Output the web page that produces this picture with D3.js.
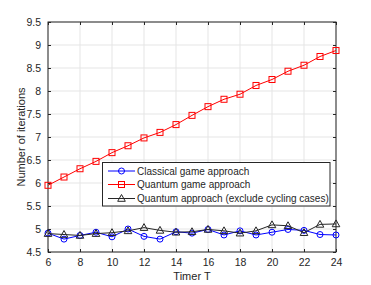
<!DOCTYPE html>
<html><head><meta charset="utf-8">
<script src="https://cdn.jsdelivr.net/npm/d3@7"></script>
<style>body{margin:0;background:#fff}svg{display:block}text{font-family:"Liberation Sans",Arial,sans-serif;fill:#262626}</style>
</head><body>
<svg id="c" width="371" height="285"></svg>
<script>
const timers = [6,7,8,9,10,11,12,13,14,15,16,17,18,19,20,21,22,23,24];
const classical = [4.91,4.78,4.86,4.93,4.83,5.00,4.84,4.78,4.94,4.91,4.99,4.87,4.96,4.87,4.93,4.99,4.97,4.88,4.87];
const quantum = [5.95,6.13,6.31,6.47,6.66,6.81,6.98,7.10,7.27,7.47,7.66,7.82,7.93,8.12,8.25,8.43,8.56,8.75,8.88];
const quantumNoCycle = [4.90,4.88,4.86,4.90,4.92,4.96,5.03,4.97,4.93,4.94,4.99,4.96,4.91,4.96,5.09,5.07,4.92,5.10,5.11];
const xTicks = [6,8,10,12,14,16,18,20,22,24];
const yTicks = [4.5,5,5.5,6,6.5,7,7.5,8,8.5,9,9.5];
const seriesNames = ["Classical game approach","Quantum game approach","Quantum approach (exclude cycling cases)"];

const svg = d3.select("#c");
const L=48,R=336,T=22,B=252;
const x = d3.scaleLinear().domain([6,24]).range([L,R]);
const y = d3.scaleLinear().domain([4.5,9.5]).range([B,T]);

// grid
const g = svg.append("g");
g.selectAll(".gx").data(xTicks).enter().append("line")
 .attr("x1",d=>x(d)).attr("x2",d=>x(d)).attr("y1",T).attr("y2",B)
 .attr("stroke","#e5e5e5").attr("stroke-width",1);
g.selectAll(".gy").data(yTicks).enter().append("line")
 .attr("y1",d=>y(d)).attr("y2",d=>y(d)).attr("x1",L).attr("x2",R)
 .attr("stroke","#e5e5e5").attr("stroke-width",1);

// axes
const ax = d3.axisBottom(x).tickValues(xTicks).tickSizeInner(-3).tickSizeOuter(0).tickPadding(7);
const ay = d3.axisLeft(y).tickValues(yTicks).tickSizeInner(-3).tickSizeOuter(0).tickPadding(7).tickFormat(d=>String(d));
const axT = d3.axisTop(x).tickValues(xTicks).tickSizeInner(-3).tickSizeOuter(0).tickFormat("");
const ayR = d3.axisRight(y).tickValues(yTicks).tickSizeInner(-3).tickSizeOuter(0).tickFormat("");
function style(sel){
  sel.selectAll("path").remove();
  sel.selectAll("line").attr("stroke","#262626");
  sel.selectAll("text").attr("font-size","10.5px").attr("fill","#262626").style("font-family",'"Liberation Sans",Arial,sans-serif');
}
svg.append("g").attr("transform",`translate(0,${B})`).call(ax).call(style);
svg.append("g").attr("transform",`translate(${L},0)`).call(ay).call(style);
svg.append("g").attr("transform",`translate(0,${T})`).call(axT).call(style);
svg.append("g").attr("transform",`translate(${R},0)`).call(ayR).call(style);
svg.append("rect").attr("x",L).attr("y",T).attr("width",R-L).attr("height",B-T)
 .attr("fill","none").attr("stroke","#262626").attr("stroke-width",1);

// series
const colors = ["#0000ff","#ff0000","#262626"];
const data = [classical, quantum, quantumNoCycle];
const line = d3.line().x((d,i)=>x(timers[i])).y(d=>y(d));
function marker(sel, k, cx, cy){
  if(k===0) sel.append("circle").attr("cx",cx).attr("cy",cy).attr("r",3).attr("fill","none").attr("stroke",colors[k]).attr("stroke-width",1);
  else if(k===1) sel.append("rect").attr("x",cx-3).attr("y",cy-3).attr("width",6).attr("height",6).attr("fill","none").attr("stroke",colors[k]).attr("stroke-width",1);
  else sel.append("path").attr("d",`M${cx},${cy-4}L${cx+3.8},${cy+2.8}L${cx-3.8},${cy+2.8}Z`).attr("fill","none").attr("stroke",colors[k]).attr("stroke-width",1);
}
data.forEach((vals,k)=>{
  const gs = svg.append("g");
  gs.append("path").datum(vals).attr("d",line).attr("fill","none").attr("stroke",colors[k]).attr("stroke-width",1);
  vals.forEach((v,i)=>marker(gs,k,x(timers[i]),y(v)));
});

// legend
const lg = svg.append("g");
lg.append("rect").attr("x",102.5).attr("y",162.5).attr("width",227.5).attr("height",43.5)
 .attr("fill","#fff").attr("stroke","#262626").attr("stroke-width",1);
const rows=[171,184.5,198.5];
seriesNames.forEach((n,k)=>{
  lg.append("line").attr("x1",108).attr("x2",135).attr("y1",rows[k]).attr("y2",rows[k]).attr("stroke",colors[k]).attr("stroke-width",1);
  marker(lg,k,121.5,rows[k]);
  lg.append("text").attr("x",137).attr("y",rows[k]+3.6).attr("font-size","10px").text(n);
});

// labels
svg.append("text").attr("x",(L+R)/2).attr("y",280).attr("text-anchor","middle").attr("font-size","11px").text("Timer T");
svg.append("text").attr("transform",`translate(25,${(T+B)/2}) rotate(-90)`).attr("text-anchor","middle").attr("font-size","11px").text("Number of iterations");
</script>
</body></html>
